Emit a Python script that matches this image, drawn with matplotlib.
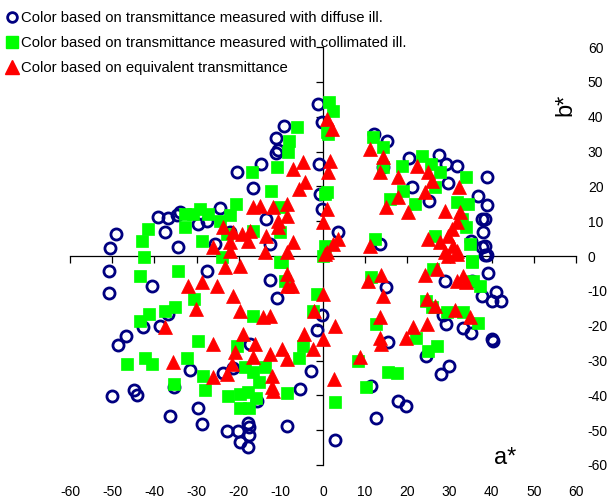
import matplotlib
matplotlib.use("Agg")
import matplotlib.pyplot as plt
from matplotlib.lines import Line2D

plt.rcParams['font.family'] = ['Liberation Sans', 'DejaVu Sans']
plt.rcParams['axes.unicode_minus'] = False

# ---- data: (a*, b*) ----
diffuse_a = [-1.3, -9.2, -11.1, -11.1, -10.7, -14.7, -20.5, -16.7, -0.9, -0.3, -0.7, -0.3, -39.2, -36.8, -34.7, -33.9,
             -24.4, -29.6, -27.6, -37.5, -49.1, -50.5, -34.5, -13.5, -12.6, -25.6, -22.1, 3.6, -50.7, -27.6, -40.6, -50.7,
             -12.6, -10.8, -36.7, -42.8, -38.7, -46.7, -48.7, -31.5, -50.1, -44.8, -44.2, -36.3, -29.6, -28.8, -22.8, -20.1,
             -17.7, -17.5, -19.7, -17.9, -17.5, -8.6, -5.5, -2.9, -23.6, -21.3, -17.3, -15.7, -35.3, -0.3, -1.5, 2.8,
             14.9, 15.5, 11.5, 12.6, 17.7, 19.8, 24.4, 27.9, 29.9, 29.2, 28.5, 33.3, 35.1, 28.9, 37.6, 40.0,
             41.0, 42.2, 40.1, 40.2, 39.2, 38.4, 35.3, 12.1, 15.1, 14.3, 13.5, 20.5, 21.0, 25.2, 27.4, 29.1,
             31.8, 29.7, 36.7, 38.8, 39.0, 37.6, 38.4, 37.9, 37.6, 38.4, 38.8, 35.1]
diffuse_b = [43.6, 37.2, 33.8, 29.6, 30.4, 26.4, 24.0, 19.5, 26.4, 38.4, 17.8, 13.5, 11.3, 10.9, 11.9, 12.5,
             13.7, 9.2, 10.1, 6.8, 6.2, 2.2, 2.5, 10.6, 3.4, 3.4, 7.0, 7.0, -4.2, -4.2, -8.7, -10.7,
             -6.8, -12.1, -16.7, -20.3, -20.2, -23.1, -25.6, -32.6, -40.3, -38.4, -39.8, -45.8, -43.6, -48.2, -50.2, -50.2,
             -47.8, -49.0, -53.5, -54.9, -51.4, -48.7, -38.2, -32.9, -33.6, -32.2, -25.3, -41.5, -37.7, -16.8, -21.2, -52.7,
             -9.0, -24.6, -37.2, -46.6, -41.5, -43.0, -28.6, -33.9, -31.7, -19.5, -16.9, -20.8, -22.1, -7.1, -11.4, -12.8,
             -10.4, -13.0, -23.8, -24.4, -4.9, 0.3, -7.1, 35.0, 33.1, 25.5, 3.4, 28.0, 19.9, 15.7, 29.0, 26.4,
             25.8, 20.9, 17.1, 22.6, 14.6, 10.6, 10.6, 6.8, 2.5, 3.0, 0.4, 4.4]

collim_a = [1.5, 2.4, -6.2, -8.0, -8.2, -10.8, -16.9, -12.4, 0.9, 0.5, -20.6, -22.1, -24.4, -27.2, -29.2, -30.8,
            -32.7, -32.7, -41.4, -43.0, -42.4, -43.4, -34.5, -28.8, -10.2, -10.2, -16.5, -22.8, -24.0, -10.2, 0.1, -30.6,
            -35.1, -37.5, -41.3, -43.4, -29.7, -32.3, -42.2, -40.6, -46.4, -28.4, -28.0, -35.3, -16.7, -20.5, -18.5, -16.5,
            -15.1, -22.5, -19.7, -17.7, -15.9, -19.7, -17.5, -8.6, -5.6, -4.7, -2.3, -1.5, -9.8, -9.0, -13.8, 2.8,
            10.2, 8.4, 12.6, 11.5, 15.5, 17.5, 22.1, 25.0, 27.0, 24.4, 25.8, 29.3, 33.3, 36.8, 26.2, 35.3,
            37.2, 35.6, 1.3, 0.9, 11.9, 14.3, 14.3, 18.7, 19.0, 15.9, 21.8, 23.4, 25.5, 27.7, 26.6, 33.8,
            31.7, 34.5, 34.0, 34.9, 35.3, 26.6, 12.3, 0.5, 32.9]
collim_b = [44.3, 41.7, 36.9, 33.1, 29.8, 25.5, 24.0, 18.8, 35.5, 17.8, 14.9, 11.8, 10.1, 12.1, 13.5, 12.1,
            12.1, 8.2, 7.8, 4.4, -0.4, -5.8, -4.2, 4.4, 6.8, -1.8, 7.3, 6.3, -0.4, 14.0, 0.1, -12.3,
            -14.7, -15.7, -16.7, -18.6, -24.3, -29.4, -29.4, -31.0, -31.0, -34.4, -38.5, -36.8, -17.1, -25.8, -32.0, -33.4,
            -36.1, -40.1, -39.6, -39.1, -40.8, -43.7, -43.7, -39.3, -29.4, -25.8, -15.7, -10.9, -1.8, -7.1, -32.0, -41.8,
            -37.5, -30.0, -19.5, -6.1, -33.4, -33.6, -23.4, -27.2, -25.9, -12.8, -14.7, -16.2, -16.2, -19.2, -3.7, -1.8,
            -8.5, -7.1, 35.0, 18.3, 34.1, 31.2, 25.5, 25.9, 18.8, 16.4, 14.9, 28.8, 26.4, 24.0, 19.7, 22.6,
            15.6, 14.9, 8.2, 3.4, -1.3, 5.8, 4.9, 3.0, 10.6]

equiv_a = [0.9, 2.1, -4.7, -7.0, -4.3, -5.8, 1.7, 1.3, 0.9, 0.1, -16.5, -14.9, -11.8, -8.6, -8.6, -10.6,
           -10.6, -13.4, -7.0, -8.6, -13.8, -23.6, -21.3, -19.3, -17.3, -17.7, -22.1, -22.1, -26.0, -23.2, -19.7, 0.9,
           2.4, -31.9, -28.8, -25.2, -21.3, -30.1, -19.8, -14.2, -12.6, -37.5, -18.9, -16.1, -26.0, -20.9, -16.5, -12.6,
           -9.8, -8.6, -35.5, -21.6, -22.8, -26.2, -12.2, -12.2, -11.8, -8.6, -8.6, -7.4, 0.1, -2.1, -4.4, 0.1,
           -2.4, 2.8, 2.6, 8.8, 10.7, 13.7, 14.3, 13.4, 13.5, 13.7, 19.7, 21.4, 24.6, 24.2, 27.0, 24.6,
           26.6, 31.3, 34.9, 31.7, 34.0, 33.3, 29.7, 31.7, 0.5, 3.6, 11.1, 14.3, 13.4, 17.9, 17.9, 14.9,
           20.2, 22.2, 25.0, 25.8, 24.2, 32.3, 28.9, 32.5, 31.7, 30.5, 29.7, 25.0, 27.7, 30.9, 28.9, 31.7, 11.1]
equiv_b = [39.3, 36.5, 26.9, 25.0, 21.2, 19.2, 27.4, 24.0, 13.5, 9.7, 14.0, 14.4, 14.0, 14.9, 11.6, 10.1,
           8.2, 5.8, 3.9, 1.1, 1.1, 8.2, 6.8, 6.3, 7.3, 4.4, 3.9, 1.5, 2.5, -3.2, -2.8, 1.1,
           3.4, -8.5, -7.6, -8.5, -11.4, -15.2, -15.7, -17.6, -17.1, -20.5, -22.4, -25.3, -25.3, -27.7, -29.1, -28.1,
           -26.7, -29.6, -30.5, -31.0, -33.9, -34.8, -34.4, -37.7, -38.7, -5.2, -8.5, -8.5, -10.9, -15.7, -22.4, -23.8,
           -26.7, -20.2, -35.3, -29.1, -7.3, -5.5, -11.4, -17.6, -23.6, -25.3, -23.6, -20.5, -19.5, -5.5, -3.7, -12.3,
           -14.3, -15.4, -17.6, -7.1, -7.6, -5.6, 0.1, 0.6, 0.6, 4.9, 30.7, 28.3, 24.0, 22.6, 16.9, 14.0,
           12.5, 25.9, 24.0, 21.6, 18.3, 19.7, 13.0, 12.5, 9.7, 7.8, 5.8, 4.9, 3.9, 3.0, 1.1, 1.5, 3.0]

labels = ["Color based on transmittance measured with diffuse ill.",
          "Color based on transmittance measured with collimated ill.",
          "Color based on equivalent transmittance"]
ticks = list(range(-60, 61, 10))

W, H = 616, 499
fig = plt.figure(figsize=(W / 100, H / 100), dpi=100)
rect = [70 / W, 34 / H, 506 / W, 418 / H]

ax = fig.add_axes(rect)
ax.set_xlim(-60, 60)
ax.set_ylim(-60, 60)
for s in ['top', 'right']:
    ax.spines[s].set_visible(False)
ax.spines['left'].set_position(('data', 0))
ax.spines['bottom'].set_position(('data', 0))
for s in ['left', 'bottom']:
    ax.spines[s].set_linewidth(0.9)
    ax.spines[s].set_color('black')
ax.set_xticks(ticks)
ax.set_yticks(ticks)
ax.tick_params(axis='both', direction='out', length=5, width=0.9,
               labelbottom=False, labelleft=False)
ax.patch.set_alpha(0)

ax.plot(diffuse_a, diffuse_b, linestyle='none', marker='o', ms=8, mfc='none',
        mec='#000080', mew=2.0, zorder=3, clip_on=False)
ax.plot(collim_a, collim_b, linestyle='none', marker='s', ms=8.5, mfc='#00FF00',
        mec='#00FF00', mew=0.5, zorder=4, clip_on=False)
ax.plot(equiv_a, equiv_b, linestyle='none', marker='^', ms=10.5, mfc='#FF0000',
        mec='#FF0000', mew=0.5, zorder=5, clip_on=False)

# tick labels on outer frame
lab = fig.add_axes(rect, frameon=False)
lab.set_xlim(-60, 60)
lab.set_ylim(-60, 60)
lab.set_xticks(ticks)
lab.set_yticks(ticks)
lab.yaxis.tick_right()
lab.tick_params(axis='x', length=0, pad=14.5, labelsize=10)
lab.tick_params(axis='y', length=0, pad=8.5, labelsize=10)
lab.patch.set_alpha(0)

fig.text(505 / W, 1 - 458 / H, "a*", fontsize=17, ha='center', va='center')
fig.text(565 / W, 1 - 105 / H, "b*", fontsize=17, ha='center', va='center', rotation=90)

handles = [
    Line2D([], [], linestyle='none', marker='o', ms=7, mfc='none', mec='#000080', mew=2.0),
    Line2D([], [], linestyle='none', marker='s', ms=8.5, mfc='#00FF00', mec='#00FF00'),
    Line2D([], [], linestyle='none', marker='^', ms=10, mfc='#FF0000', mec='#FF0000'),
]
fig.legend(handles, labels, loc='upper left', bbox_to_anchor=(5 / W, 1 - 11 / H),
           bbox_transform=fig.transFigure, frameon=False, fontsize=10.7,
           handlelength=0.9, handletextpad=0.2, labelspacing=0.75,
           borderpad=0, borderaxespad=0)

fig.savefig("out.png", dpi=100)
